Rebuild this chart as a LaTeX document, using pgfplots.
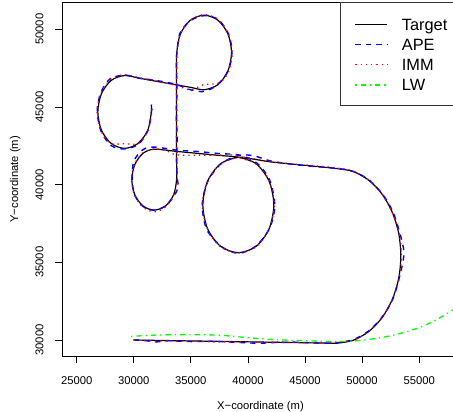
\documentclass[border=0pt]{standalone}
\usepackage{pgfplots}
\pgfplotsset{compat=1.18}
\usepackage{fontspec}
\setmainfont{Liberation Sans}
\definecolor{rblue}{RGB}{0,0,255}
\definecolor{rred}{RGB}{255,0,0}
\definecolor{rgreen}{RGB}{0,255,0}
\begin{document}
\begin{tikzpicture}
\begin{axis}[
  name=ax, at={(0,0)}, anchor=south west,
  scale only axis, width=397bp, height=354bp,
  xmin=23712, xmax=58489, ymin=28951, ymax=51738,
  xtick={25000,30000,...,55000}, ytick={30000,35000,...,50000},
  tick pos=left, tick align=outside, major tick length=7bp,
  tick style={black, line width=0.8bp},
  axis line style={line width=0.8bp},
  scaled ticks=false,
  /pgf/number format/1000 sep={},
  /pgf/number format/assume math mode=true,
  xticklabel style={font=\fontsize{11.3}{13}\selectfont, anchor=north, inner sep=0pt, yshift=-12.7bp},
  yticklabel style={font=\fontsize{11.3}{13}\selectfont, xshift=-11.25bp, rotate=90, anchor=south, inner sep=0pt},
  every axis x label/.style={at={(axis description cs:0.5,0)}, yshift=-50.5bp, anchor=center, font=\fontsize{11.3}{13}\selectfont},
  every axis y label/.style={at={(axis description cs:0,0.5)}, xshift=-46.9bp, rotate=90, anchor=center, font=\fontsize{11.3}{13}\selectfont},
  xlabel={X−coordinate (m)},
  ylabel={Y−coordinate (m)},
  legend style={at={(axis description cs:0.70025,1)}, anchor=north west,
    draw=none, fill=white, inner xsep=0pt, inner ysep=11.1bp,
    row sep=0pt, column sep=0pt,
    font=\fontsize{16.4}{18}\selectfont,
    nodes={inner xsep=0pt, inner ysep=2.5bp, text height=13.95bp, text depth=1.35bp}},
  legend cell align=left,
  legend image code/.code={\path[draw=none] (0bp,0bp) -- (61.7bp,0bp); \draw[#1] (15bp,-0.43bp) -- (47bp,-0.43bp);},
]
% Target
\addplot[black, line width=1.2bp, smooth] coordinates {
(29960,30000) (32000,29975) (35000,29940) (38000,29905) (41000,29870) (44000,29835) (46500,29805) (47775,29795)
(49230,29986) (50585,30548) (51749,31441) (52642,32605) (53204,33960) (53395,35415) (53204,36870) (52642,38225)
(51749,39389) (50585,40282) (49230,40844) (47775,41035) (46000,41170) (44000,41315) (42000,41465) (40500,41640)
(39160,41760) (37605,41349) (36467,40225) (36050,38690) (36467,37155) (37605,36031) (39160,35620) (40715,36031)
(41853,37155) (42270,38690) (41853,40225) (40715,41349) (39160,41760) (37500,41880) (35500,42020) (33750,42140)
(31790,42280) (30810,42017) (30093,41300) (29830,40320) (30093,39340) (30810,38623) (31790,38360) (32770,38623)
(33487,39340) (33750,40320) (33750,41500) (33750,43000) (33750,44500) (33750,46000) (33750,47500) (33764,48510)
(34086,49710) (34964,50588) (36164,50910) (37364,50588) (38242,49710) (38564,48510) (38242,47310) (37364,46432)
(36164,46110) (35000,46260) (33750,46420) (32000,46650) (30500,46850) (29195,47025) (28022,46711) (27164,45853)
(26850,44680) (27164,43508) (28022,42649) (29195,42335) (30368,42649) (31226,43508) (31540,44680) (31530,45150)
};
\addlegendentry{Target}
% APE
\addplot[rblue, line width=1.4bp, dash pattern=on 5.3bp off 5.3bp, smooth] coordinates {
(30000,30000) (31000,29960) (32000,29880) (33000,29950) (35000,29900) (37000,29920) (39000,29850) (41000,29790)
(42000,29830) (44000,29860) (46000,29810) (47700,29820) (49250,30030) (50600,30600) (51800,31520) (52700,32650)
(53250,34000) (53600,35100) (53650,35800) (53300,36900) (52700,38250) (51800,39380) (50600,40300) (49200,40860)
(47700,41050) (46000,41160) (44000,41300) (42000,41520) (40500,41860) (39200,41880) (37700,41380) (36500,40240)
(36000,38700) (36400,37100) (37700,36000) (39200,35580) (40700,36050) (41900,37200) (42350,38650) (41900,40300)
(40800,41380) (39300,41900) (37500,42000) (35500,42140) (33800,42220) (31800,42420) (30800,42250) (30000,41500)
(29850,40300) (30100,39300) (30800,38600) (31800,38350) (32800,38650) (33550,39300) (33900,39900) (33800,40400)
(33750,41500) (33800,43000) (33720,44500) (33780,46000) (33730,47500) (33780,48500) (34050,49750) (34950,50550)
(36200,50880) (37400,50620) (38300,49700) (38600,48500) (38250,47300) (37350,46450) (36200,46000) (35000,46100)
(33750,46450) (32000,46700) (30500,46850) (29200,47050) (27900,46800) (27100,45900) (26800,44700) (27150,43400)
(28050,42500) (29200,42300) (30400,42600) (31250,43500) (31550,44700) (31550,45150)
};
\addlegendentry{APE}
% IMM
\addplot[rred, line width=1.3bp, dash pattern=on 1.3bp off 4bp, smooth] coordinates {
(30000,30010) (31500,29950) (33000,29930) (35000,29940) (37000,29880) (39000,29880) (41000,29850) (43000,29870)
(45000,29840) (47000,29830) (47800,29860) (49250,30000) (50600,30560) (51750,31460) (52650,32620) (53250,33980)
(53450,35400) (53250,36850) (52650,38200) (51750,39400) (50600,40300) (49200,40880) (47700,41080) (46000,41210)
(44000,41330) (42000,41470) (40300,41700) (39160,41760) (37600,41330) (36450,40200) (36000,38700) (36480,37100)
(37600,36000) (39160,35600) (40720,36000) (41850,37150) (42300,38700) (41850,40250) (40700,41330) (39160,41760)
(38700,41900) (36000,41900) (33760,41920) (32800,42200) (31800,42300) (30800,42050) (30050,41300) (29800,40300)
(30080,39300) (30800,38550) (31800,38250) (32750,38550) (33500,39300) (33800,40300) (33780,41500) (33730,43000)
(33780,44500) (33730,46000) (33770,47500) (33780,48500) (34080,49720) (34980,50600) (36200,50950) (37400,50620)
(38270,49700) (38620,48500) (38280,47250) (37500,46560) (36050,46420) (35000,46100) (33750,46380) (32000,46680)
(30500,46880) (29200,47080) (28000,46780) (27100,45870) (26780,44700) (27100,43500) (27950,42660) (29200,42640)
(30400,42640) (31250,43480) (31580,44700) (31600,45150)
};
\addlegendentry{IMM}
% LW
\addplot[rgreen, line width=1.3bp, dash pattern=on 1.3bp off 4bp on 5.3bp off 4bp, smooth] coordinates {
(29760,30230) (32000,30320) (35000,30340) (37500,30310) (40000,30150) (42500,30020) (45000,29950) (47500,29900)
(49000,29920) (50500,30030) (52000,30200) (53500,30450) (55000,30800) (56500,31300) (58000,31950) (59000,32400)
};
\addlegendentry{LW}
\end{axis}
\draw[black!80, line width=0.9bp] (278bp,354bp) rectangle (430bp,250.6bp);
\pgfresetboundingbox
\useasboundingbox (-62bp,-55.7bp) rectangle (391bp,356.3bp);
\end{tikzpicture}
\end{document}
